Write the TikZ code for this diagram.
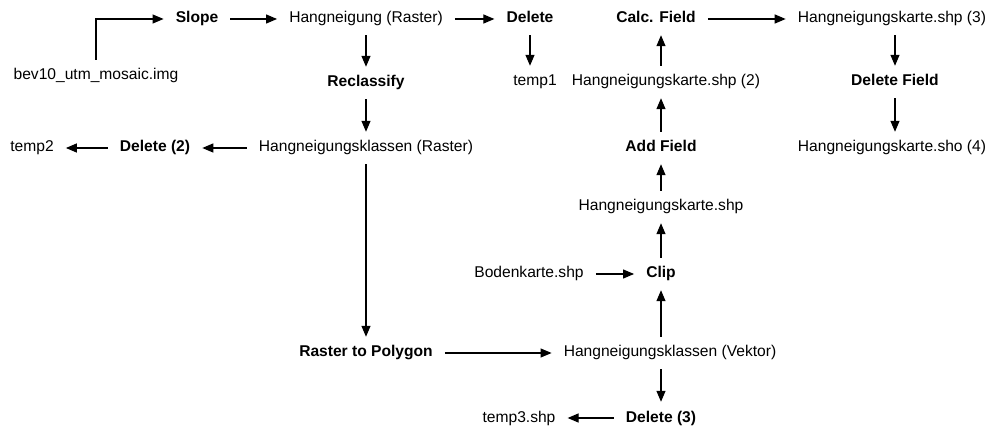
\documentclass[tikz,border=0pt]{standalone}
\usepackage{fontspec}
\setmainfont{Liberation Sans}
\usetikzlibrary{arrows.meta, positioning}

\begin{document}
\begin{tikzpicture}[x=1pt, y=-1pt, >={Triangle[length=11pt, width=9pt]}, font=\fontsize{15.6}{18}\selectfont,
  data/.style={inner xsep=12pt, inner ysep=9pt, text height=11pt, text depth=3pt},
  tool/.style={data, font=\fontsize{15.6}{18}\selectfont\bfseries},
  flow/.style={->, line width=1.2pt}]
\useasboundingbox (0,0) rectangle (994,430);
% top row
\node[data] (dem) at (96,76) {bev10\_utm\_mosaic.img};
\node[tool] (slope) at (197,19) {Slope};
\node[data] (hang) at (366,19) {Hangneigung (Raster)};
\node[tool] (del) at (530,19) {Delete};
\node[tool] (calc) at (656,19) {Calc. Field};
\node[data] (shpthree) at (892,19) {Hangneigungskarte.shp (3)};
% second row
\node[tool] (reclass) at (366,83) {Reclassify};
\node[data] (tempone) at (535,82) {temp1};
\node[data] (shptwo) at (666,82) {Hangneigungskarte.shp (2)};
\node[tool] (delfield) at (895,82) {Delete Field};
% third row
\node[data] (temptwo) at (32,148) {temp2};
\node[tool] (deltwo) at (155,148) {Delete (2)};
\node[data] (rclass) at (366,148) {Hangneigungsklassen (Raster)};
\node[tool] (addfield) at (661,148) {Add Field};
\node[data] (shpfour) at (892,148) {Hangneigungskarte.sho (4)};
% lower part
\node[data] (shp) at (661,207) {Hangneigungskarte.shp};
\node[data] (boden) at (529,274) {Bodenkarte.shp};
\node[tool] (clip) at (661,274) {Clip};
\node[tool] (topoly) at (366,353) {Raster to Polygon};
\node[data] (vclass) at (670,353) {Hangneigungsklassen (Vektor)};
\node[data] (tempthree) at (519,418) {temp3.shp};
\node[tool] (delthree) at (661,418) {Delete (3)};

\draw[flow] (dem.north) |- (slope.west);
\draw[flow] (slope) -- (hang);
\draw[flow] (hang) -- (del);
\draw[flow] (del) -- (tempone.north -| del);
\draw[flow] (hang) -- (reclass);
\draw[flow] (reclass) -- (rclass);
\draw[flow] (rclass) -- (deltwo);
\draw[flow] (deltwo) -- (temptwo);
\draw[flow] (rclass) -- (topoly);
\draw[flow] (topoly) -- (vclass);
\draw[flow] (vclass.south -| delthree) -- (delthree);
\draw[flow] (delthree) -- (tempthree);
\draw[flow] (vclass.north -| clip) -- (clip);
\draw[flow] (boden) -- (clip);
\draw[flow] (clip) -- (shp);
\draw[flow] (shp) -- (addfield);
\draw[flow] (addfield) -- (shptwo.south -| addfield);
\draw[flow] (shptwo.north -| addfield) -- (calc.south -| addfield);
\draw[flow] (calc) -- (shpthree);
\draw[flow] (shpthree.south -| delfield) -- (delfield);
\draw[flow] (delfield) -- (shpfour.north -| delfield);
\end{tikzpicture}
\end{document}
